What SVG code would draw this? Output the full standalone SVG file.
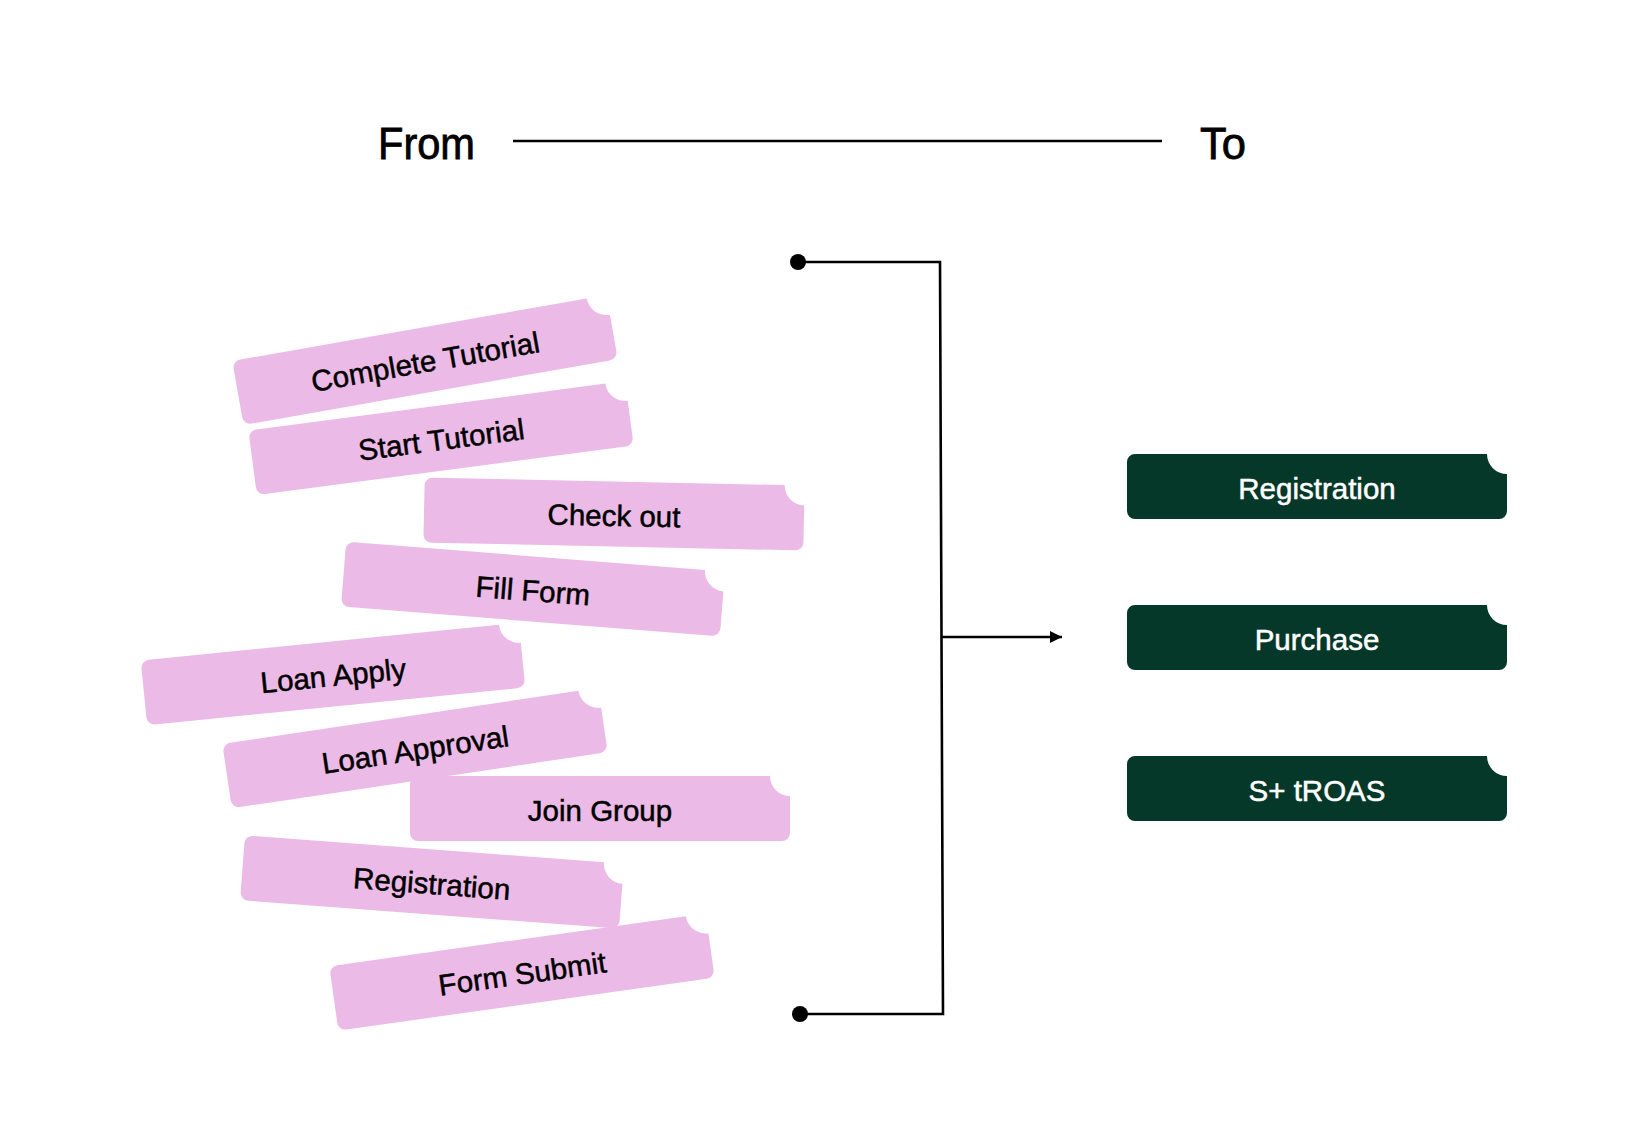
<svg xmlns="http://www.w3.org/2000/svg" xmlns:xlink="http://www.w3.org/1999/xlink" width="1648" height="1145" viewBox="0 0 1648 1145">
<style>
.pink{fill:#ECBAE6}
.green{fill:#053828}
.lbl{font-family:"Liberation Sans",Arial,sans-serif;font-size:29.5px;text-anchor:middle;stroke-width:0.5px}
.dark{fill:#000;stroke:#000}
.light{fill:#fff;stroke:#fff}
.head{font-family:"Liberation Sans",Arial,sans-serif;font-size:44px;fill:#000;stroke:#000;stroke-width:0.8px}
.wire{fill:none;stroke:#000;stroke-width:2.6}
</style>
<defs>
<path id="tag" d="M -182 -32.5 H 170 A 20 20 0 0 0 190 -12.5 V 24.5 A 8 8 0 0 1 182 32.5 H -182 A 8 8 0 0 1 -190 24.5 V -24.5 A 8 8 0 0 1 -182 -32.5 Z"/>
<marker id="arrow" viewBox="0 0 12 12" refX="12" refY="6" markerWidth="12" markerHeight="12" markerUnits="userSpaceOnUse" orient="auto">
<path d="M0 0 L12 6 L0 12 Z" fill="#000"/>
</marker>
</defs>
<rect width="1648" height="1145" fill="#fff"/>
<g id="header">
<text class="head" x="378" y="159" textLength="97" lengthAdjust="spacingAndGlyphs">From</text>
<line x1="513" y1="141" x2="1162" y2="141" stroke="#000" stroke-width="2.5"/>
<text class="head" x="1200" y="159" textLength="46" lengthAdjust="spacingAndGlyphs">To</text>
</g>
<g id="connectors">
<path class="wire" d="M 798 262 H 940 L 943 1014 H 800"/>
<circle cx="798" cy="262" r="8" fill="#000"/>
<circle cx="800" cy="1014" r="8" fill="#000"/>
<line class="wire" x1="942" y1="637" x2="1062" y2="637" marker-end="url(#arrow)"/>
</g>
<g id="tag-complete-tutorial" transform="translate(425 360) rotate(-10)">
<use xlink:href="#tag" class="pink"/><text class="lbl dark" x="0" y="12">Complete Tutorial</text>
</g>
<g id="tag-start-tutorial" transform="translate(441 438) rotate(-7.5)">
<use xlink:href="#tag" class="pink"/><text class="lbl dark" x="0" y="12">Start Tutorial</text>
</g>
<g id="tag-check-out" transform="translate(614 514) rotate(1.2)">
<use xlink:href="#tag" class="pink"/><text class="lbl dark" x="0" y="12">Check out</text>
</g>
<g id="tag-fill-form" transform="translate(533 589) rotate(4.5)">
<use xlink:href="#tag" class="pink"/><text class="lbl dark" x="0" y="12">Fill Form</text>
</g>
<g id="tag-loan-apply" transform="translate(333 674) rotate(-5.7)">
<use xlink:href="#tag" class="pink"/><text class="lbl dark" x="0" y="12">Loan Apply</text>
</g>
<g id="tag-loan-approval" transform="translate(415 748) rotate(-8.5)">
<use xlink:href="#tag" class="pink"/><text class="lbl dark" x="0" y="12">Loan Approval</text>
</g>
<g id="tag-join-group" transform="translate(600 808.5)">
<use xlink:href="#tag" class="pink"/><text class="lbl dark" x="0" y="12">Join Group</text>
</g>
<g id="tag-registration" transform="translate(432 882) rotate(4.3)">
<use xlink:href="#tag" class="pink"/><text class="lbl dark" x="0" y="12">Registration</text>
</g>
<g id="tag-form-submit" transform="translate(522 972) rotate(-8)">
<use xlink:href="#tag" class="pink"/><text class="lbl dark" x="0" y="12">Form Submit</text>
</g>
<g id="goal-registration" transform="translate(1317 486.5)">
<use xlink:href="#tag" class="green"/><text class="lbl light" x="0" y="12">Registration</text>
</g>
<g id="goal-purchase" transform="translate(1317 637.5)">
<use xlink:href="#tag" class="green"/><text class="lbl light" x="0" y="12">Purchase</text>
</g>
<g id="goal-s-troas" transform="translate(1317 788.5)">
<use xlink:href="#tag" class="green"/><text class="lbl light" x="0" y="12">S+ tROAS</text>
</g>
</svg>
